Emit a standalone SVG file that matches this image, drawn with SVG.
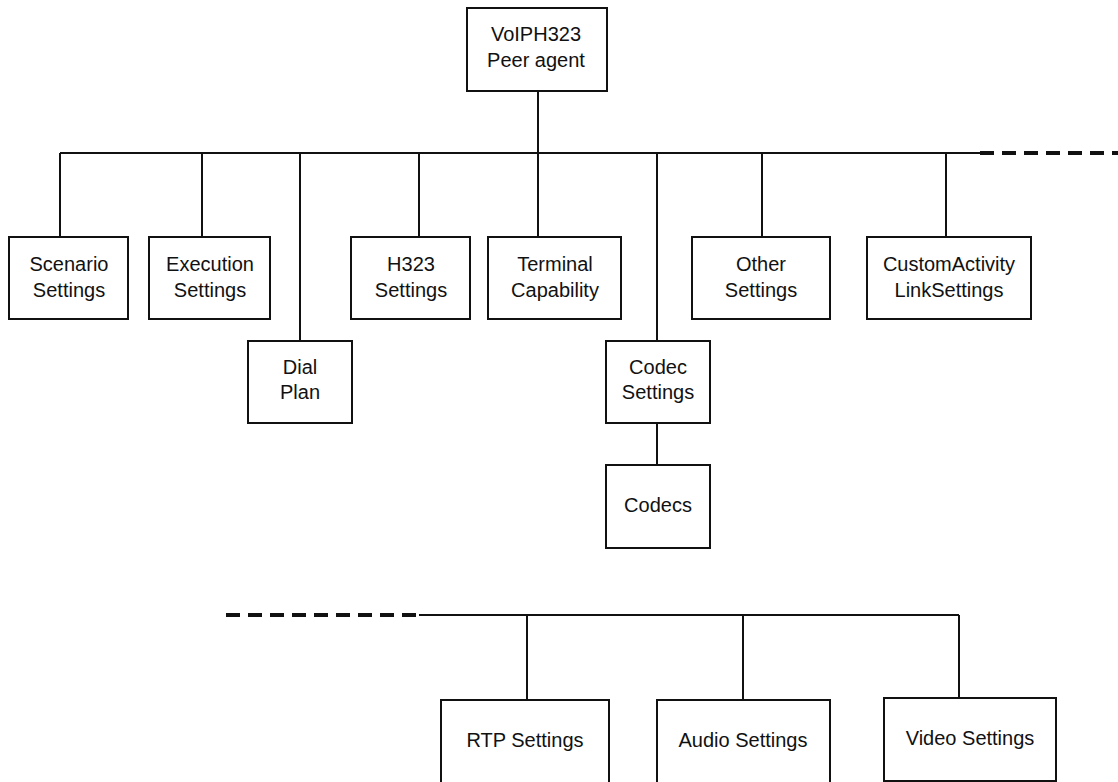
<svg xmlns="http://www.w3.org/2000/svg" width="1118" height="782" viewBox="0 0 1118 782">
<style>
.box{fill:#fff;stroke:#111;stroke-width:2}
.ln{fill:none;stroke:#111;stroke-width:2}
.dash{fill:none;stroke:#111;stroke-width:4;stroke-dasharray:14 8}
text{font-family:"Liberation Sans",Arial,sans-serif;font-size:20px;fill:#111;text-anchor:middle}
</style>
<rect width="1118" height="782" fill="#fff"/>
<g id="connectors">
<path class="ln" d="M538 91V153"/>
<path class="ln" d="M60 153H980"/>
<path class="dash" d="M980 153H1118"/>
<path class="ln" d="M60 153V237M202 153V237M300 153V341M419 153V237M538 153V237M657 153V341M762 153V237M946 153V237"/>
<path class="ln" d="M657 423V465"/>
<path class="dash" d="M226 615H419"/>
<path class="ln" d="M419 615H959M527 615V700M743 615V700M959 615V698"/>
</g>
<g id="root"><rect class="box" x="467" y="8" width="140" height="83"/><text x="536" y="41">VoIPH323</text><text x="536" y="67">Peer agent</text></g>
<g id="scenario"><rect class="box" x="9" y="237" width="119" height="82"/><text x="69" y="271">Scenario</text><text x="69" y="297">Settings</text></g>
<g id="execution"><rect class="box" x="149" y="237" width="121" height="82"/><text x="210" y="271">Execution</text><text x="210" y="297">Settings</text></g>
<g id="dialplan"><rect class="box" x="248" y="341" width="104" height="82"/><text x="300" y="374">Dial</text><text x="300" y="399">Plan</text></g>
<g id="h323"><rect class="box" x="351" y="237" width="119" height="82"/><text x="411" y="271">H323</text><text x="411" y="297">Settings</text></g>
<g id="terminal"><rect class="box" x="488" y="237" width="133" height="82"/><text x="555" y="271">Terminal</text><text x="555" y="297">Capability</text></g>
<g id="codecsettings"><rect class="box" x="606" y="341" width="104" height="82"/><text x="658" y="374">Codec</text><text x="658" y="399">Settings</text></g>
<g id="codecs"><rect class="box" x="606" y="465" width="104" height="83"/><text x="658" y="512">Codecs</text></g>
<g id="other"><rect class="box" x="692" y="237" width="138" height="82"/><text x="761" y="271">Other</text><text x="761" y="297">Settings</text></g>
<g id="custom"><rect class="box" x="867" y="237" width="164" height="82"/><text x="949" y="271">CustomActivity</text><text x="949" y="297">LinkSettings</text></g>
<g id="rtp"><rect class="box" x="441" y="700" width="168" height="90"/><text x="525" y="747">RTP Settings</text></g>
<g id="audio"><rect class="box" x="657" y="700" width="173" height="90"/><text x="743" y="747">Audio Settings</text></g>
<g id="video"><rect class="box" x="884" y="698" width="172" height="83"/><text x="970" y="745">Video Settings</text></g>
</svg>
